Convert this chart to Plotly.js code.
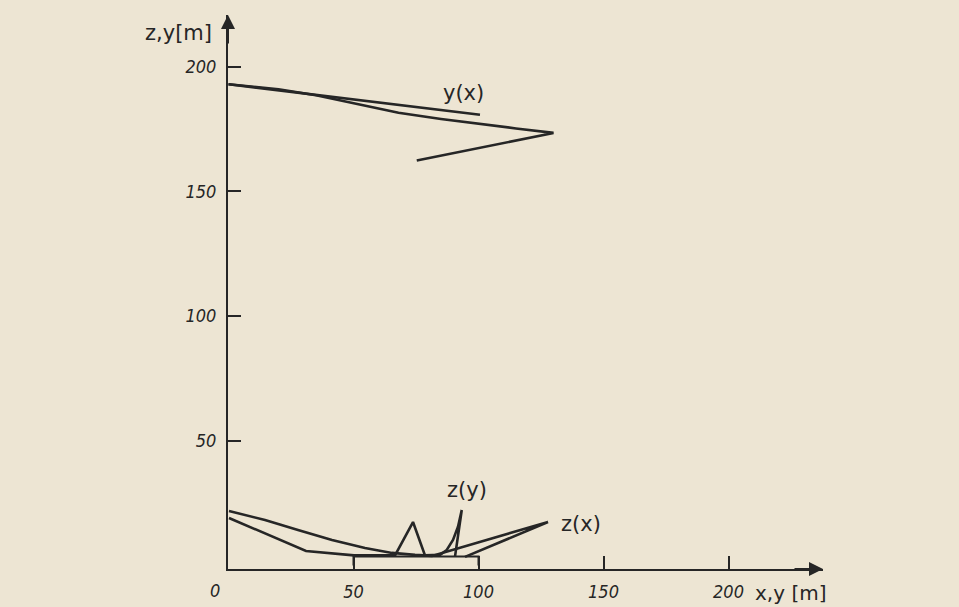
<!DOCTYPE html>
<html>
<head>
<meta charset="utf-8">
<script src="https://cdn.plot.ly/plotly-3.0.1.min.js"></script>
<style>
html,body{margin:0;padding:0;background:#ede5d3;}
#chart{width:959px;height:607px;}
</style>
</head>
<body>
<div id="chart"></div>
<script>
// Tick values
const xTickVals = [50, 100, 150, 200];
const yTickVals = [50, 100, 150, 200];

// Ground track y(x): outgoing straight segment and curved segment with turn-back
const yxOutX = [0, 100.6];
const yxOutY = [193, 180.8];
const yxRetX = [0, 20, 35, 50, 68, 85, 101, 115, 130, 75.3];
const yxRetY = [193, 191, 188.6, 185.4, 181.6, 179.1, 177, 175.3, 173.5, 162.4];

// Altitude profile z(x)
const zxX = [0.2, 14.6, 27.8, 41.4, 54.6, 65.4, 74.6, 81.4, 127.8, 94.6];
const zxZ = [21.8, 18.2, 14.2, 10.2, 7.0, 5.0, 4.2, 3.8, 17.4, 3.4];

// Altitude profile z(y)
const zyX = [0.2, 31, 50.2, 66.6, 73.8, 78.6, 84.6, 87.3, 89.8, 91.8, 93.3, 90.6];
const zyZ = [19.0, 5.8, 4.0, 4.0, 17.4, 4.0, 4.2, 6.2, 10.2, 15.5, 22.2, 3.5];

// Zone on the ground
const zoneX = [50, 50, 100, 100];
const zoneZ = [0, 3.6, 3.6, 0];

const ink = '#262626';
const lineStyle = {color: ink, width: 2.6};
const tickFont = {family: 'DejaVu Sans Condensed, Liberation Sans Narrow, Liberation Sans, sans-serif', size: 18, color: ink, style: 'italic'};
const labelFont = {family: 'DejaVu Sans, Liberation Sans, sans-serif', size: 21, color: ink};
const axisLabelFont = {family: 'DejaVu Sans, Liberation Sans, sans-serif', size: 20, color: ink};

const traces = [
  {x: yxOutX, y: yxOutY, mode: 'lines', line: lineStyle, name: 'y(x)', showlegend: false, hoverinfo: 'skip'},
  {x: yxRetX, y: yxRetY, mode: 'lines', line: lineStyle, name: 'y(x)', showlegend: false, hoverinfo: 'skip'},
  {x: zxX, y: zxZ, mode: 'lines', line: lineStyle, name: 'z(x)', showlegend: false, hoverinfo: 'skip'},
  {x: zyX, y: zyZ, mode: 'lines', line: lineStyle, name: 'z(y)', showlegend: false, hoverinfo: 'skip'},
  {x: zoneX, y: zoneZ, mode: 'lines', line: {color: ink, width: 2}, name: 'zone', showlegend: false, hoverinfo: 'skip'}
];

function lbl(xref, yref, x, y, text, font) {
  return {xref: xref, yref: yref, x: x, y: y, text: text, showarrow: false, font: font, xanchor: 'center', yanchor: 'middle'};
}

const layout = {
  width: 959, height: 607,
  paper_bgcolor: '#ede5d3', plot_bgcolor: 'rgba(0,0,0,0)',
  margin: {l: 228, r: 136, t: 15, b: 38},
  showlegend: false,
  xaxis: {
    range: [-0.2, 237.8], showgrid: false, zeroline: false,
    showline: true, linecolor: ink, linewidth: 2,
    ticks: 'inside', ticklen: 13, tickwidth: 2, tickcolor: ink,
    tickvals: xTickVals, ticktext: xTickVals.map(String),
    tickfont: tickFont, ticklabelstandoff: 5, fixedrange: true
  },
  yaxis: {
    range: [-1.45, 220.8], showgrid: false, zeroline: false,
    showline: true, linecolor: ink, linewidth: 2,
    ticks: 'inside', ticklen: 13, tickwidth: 2, tickcolor: ink,
    tickvals: yTickVals, ticktext: yTickVals.map(String),
    tickfont: tickFont, ticklabelstandoff: 6, fixedrange: true
  },
  annotations: [
    {xref: 'paper', yref: 'paper', x: 0, y: 1, ax: 0, ay: 30, text: '', showarrow: true, arrowhead: 2, arrowsize: 1.4, arrowwidth: 2, arrowcolor: ink},
    {xref: 'paper', yref: 'paper', x: 1, y: 0, ax: -30, ay: 0, text: '', showarrow: true, arrowhead: 2, arrowsize: 1.4, arrowwidth: 2, arrowcolor: ink},
    lbl('paper', 'paper', -0.084, 0.9675, 'z,y[m]', labelFont),
    lbl('x', 'y', 93.8, 189.4, 'y(x)', labelFont),
    lbl('x', 'y', 95.4, 30.2, 'z(y)', labelFont),
    lbl('x', 'y', 141, 16.6, 'z(x)', labelFont),
    lbl('paper', 'paper', 0.946, -0.0425, 'x,y [m]', axisLabelFont),
    lbl('paper', 'paper', -0.022, -0.038, '0', tickFont)
  ]
};

Plotly.newPlot('chart', traces, layout, {staticPlot: true, displayModeBar: false});
</script>
</body>
</html>
